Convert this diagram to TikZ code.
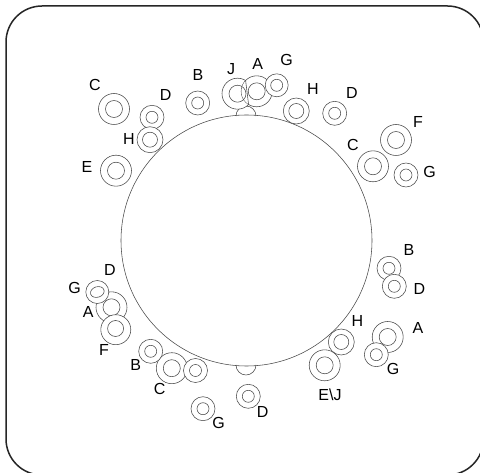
\documentclass[tikz,border=0pt]{standalone}
\usepackage{fontspec}
\usetikzlibrary{shapes.geometric}
\setmainfont{Liberation Sans}
\definecolor{ln}{gray}{0.28}
\tikzset{
 x=1pt,y=-1pt,
 ringbig/.style={circle,draw=ln,line width=0.55pt,fill=white,inner sep=0pt,minimum size=31pt},
 ringmid/.style={circle,draw=ln,line width=0.55pt,fill=white,inner sep=0pt,minimum size=26pt},
 ringsmall/.style={circle,draw=ln,line width=0.55pt,fill=white,inner sep=0pt,minimum size=24pt},
 corebig/.style={circle,draw=ln,line width=0.55pt,inner sep=0pt,minimum size=17pt},
 coremid/.style={circle,draw=ln,line width=0.55pt,inner sep=0pt,minimum size=15pt},
 coresmall/.style={circle,draw=ln,line width=0.55pt,inner sep=0pt,minimum size=12pt},
 coreoval/.style={ellipse,draw=ln,line width=0.55pt,inner sep=0pt,minimum width=14pt,minimum height=10.5pt,rotate=18},
 lab/.style={inner sep=0pt,font=\fontsize{16}{16}\selectfont,text=black},
 disc/.style={circle,draw=ln,line width=0.55pt,fill=white,inner sep=0pt,minimum size=251pt},
 halfcap/.style={draw=ln,line width=0.55pt},
 frame/.style={draw=black!85,line width=1.5pt,rounded corners=36pt}
}
\newcommand{\ringB}[2]{\node[ringbig] (r#1) at (#2) {};\node[corebig] (k#1) at (r#1.center) {};}
\newcommand{\ringM}[2]{\node[ringmid] (r#1) at (#2) {};\node[coremid] (k#1) at (r#1.center) {};}
\newcommand{\ringS}[2]{\node[ringsmall] (r#1) at (#2) {};\node[coresmall] (k#1) at (r#1.center) {};}
\begin{document}
\begin{tikzpicture}
\useasboundingbox (0,0) rectangle (480,473);
\fill[white] (0,0) rectangle (480,473);
\begin{scope}
\clip (0,0) rectangle (480,473);
\draw[frame] (6,6) rectangle (483.5,475);
\end{scope}
\node[disc] (main) at (246.5,240.5) {};
\draw[halfcap] (236,116) arc[start angle=180,end angle=360,radius=10];
\draw[halfcap] (236,365) arc[start angle=180,end angle=0,radius=10];
% top left
\ringB{a}{114,109} \ringS{b}{152,117.3} \ringM{c}{150,139.7} \ringB{d}{116,170.7}
\ringS{e}{197.7,103}
% top cluster: two rings sharing a straight parting line
\node[ringbig] (rf) at (237.5,93.7) {};
\node[ringbig] (rh) at (256.7,91.3) {};
\begin{scope}
\clip (237.5,93.7) circle[radius=15.2];
\fill[white] (256.7,91.3) circle[radius=15.2];
\end{scope}
\coordinate (cutA) at (245.6,80.4);
\coordinate (cutB) at (248.6,104.6);
\draw[halfcap] (cutA) -- (cutB);
\node[corebig] (kf) at (rf.center) {};
\node[corebig] (kh) at (rh.center) {};
\node[ringsmall,minimum size=23pt] (rg) at (276.7,85.3) {};
\node[coresmall] (kg) at (rg.center) {};
% top right
\ringM{i}{296.3,111} \ringS{j}{334.7,113.3} \ringB{k}{396,140} \ringB{l}{373,166.3} \ringS{m}{406,175}
% right
\ringS{n}{389,268.3} \ringS{o}{394.3,286.3} \ringB{p}{387.7,337} \ringS{q}{376.3,354.7}
\ringM{r}{341.3,342} \ringB{s}{324.7,365.3}
% bottom
\ringS{t}{248.3,396.3} \ringS{u}{203,408.7} \ringB{w}{171.8,368.2} \ringS{v}{195.5,370.5} \ringS{x}{150.7,351.3}
% left
\ringB{y}{111.5,307.3}
\node[ringbig,minimum size=30pt] (rz) at (115.8,329.7) {};
\node[corebig,minimum size=16pt] (kz) at (115.6,328.5) {};
\node[ringsmall,minimum size=23pt] (raa) at (97.3,292) {};
\node[coreoval] (kaa) at (raa.center) {};
% labels
\node[lab] (l1) at (95,85.3) {C};
\node[lab] (l2) at (165.7,95) {D};
\node[lab] (l3) at (198,74.7) {B};
\node[lab] (l4) at (231,68.7) {J};
\node[lab] (l5) at (129,139) {H};
\node[lab] (l6) at (87,167.3) {E};
\node[lab] (l7) at (257.7,63.7) {A};
\node[lab] (l8) at (286.7,60) {G};
\node[lab] (l9) at (313,89.3) {H};
\node[lab] (l10) at (352,93) {D};
\node[lab] (l11) at (418,121.7) {F};
\node[lab] (l12) at (353,145) {C};
\node[lab] (l13) at (429.7,172.3) {G};
\node[lab] (l14) at (110,270) {D};
\node[lab] (l15) at (74.7,287.7) {G};
\node[lab] (l16) at (88.3,312.3) {A};
\node[lab] (l17) at (104,349.7) {F};
\node[lab] (l18) at (135.7,364.7) {B};
\node[lab] (l19) at (159.7,389) {C};
\node[lab] (l20) at (218.7,423.3) {G};
\node[lab] (l21) at (262.7,412) {D};
\node[lab] (l22) at (409,250.3) {B};
\node[lab] (l23) at (419.3,289.3) {D};
\node[lab] (l24) at (418,328.3) {A};
\node[lab] (l25) at (393,369.3) {G};
\node[lab] (l26) at (357.3,320.7) {H};
\node[lab] (l27) at (330,394.3) {E\textbackslash J};
\end{tikzpicture}
\end{document}
